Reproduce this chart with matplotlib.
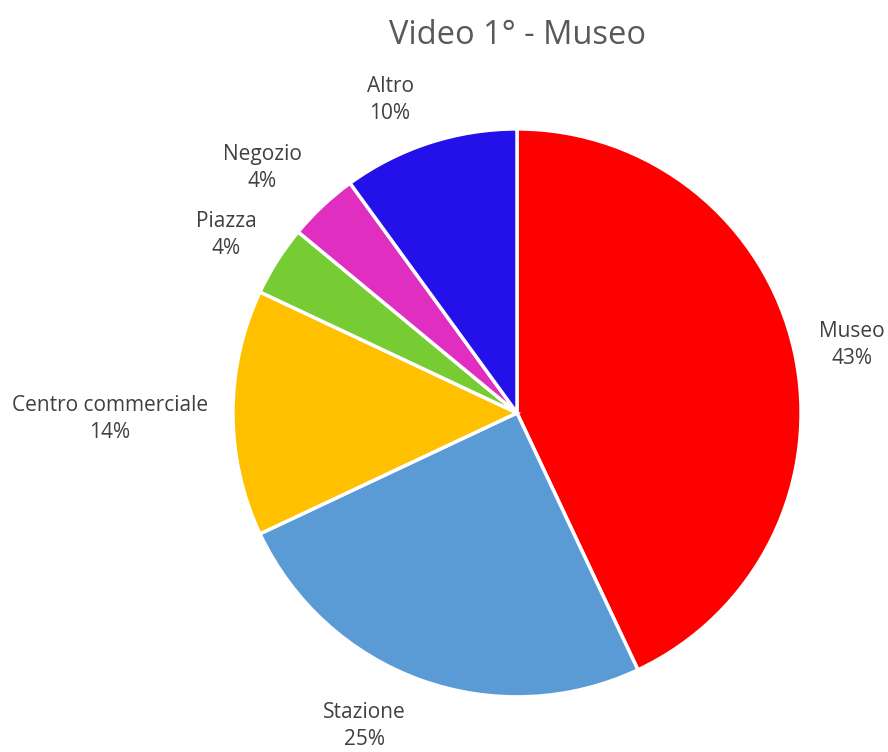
import numpy as np
import matplotlib.pyplot as plt

plt.rcParams['font.family'] = ['Open Sans', 'DejaVu Sans']

# Dati: luoghi riconosciuti nel video
categorie = ["Museo", "Stazione", "Centro commerciale", "Piazza", "Negozio", "Altro"]
percentuali = [43, 25, 14, 4, 4, 10]
colori = ["#FF0000", "#5B9BD5", "#FFC000", "#77CC33", "#E02EC0", "#2410E8"]
# posizione etichette: distanza dal centro (in raggi) e scarto angolare (gradi)
dist_etichette = [1.203, 1.227, 1.433, 1.200, 1.244, 1.188]
scarto_angolo = [-1.2, -6.1, 0.8, 1.0, 3.0, 4.1]

fig = plt.figure(figsize=(8.88, 7.52), dpi=100)
ax = fig.add_axes([0, 0, 1, 1])

wedges, _ = ax.pie(percentuali, colors=colori, startangle=90, counterclock=False,
                   radius=1.0, wedgeprops=dict(edgecolor="white", linewidth=2.5))

for w, nome, p, d, da in zip(wedges, categorie, percentuali, dist_etichette, scarto_angolo):
    ang = np.deg2rad((w.theta1 + w.theta2) / 2 + da)
    ax.text(d * np.cos(ang), d * np.sin(ang), f"{nome}\n{p}%",
            ha="center", va="center", fontsize=15, color="#404040",
            linespacing=1.38)

ax.set_xlim(-1.820, 1.306)
ax.set_ylim(-1.194, 1.454)
ax.set_aspect("auto")
ax.axis("off")

fig.text(517 / 888, 1 - 35 / 752, "Video 1° - Museo", ha="center", va="center",
         fontsize=23.5, color="#595959")

fig.savefig("out.png", dpi=100, facecolor="white")
